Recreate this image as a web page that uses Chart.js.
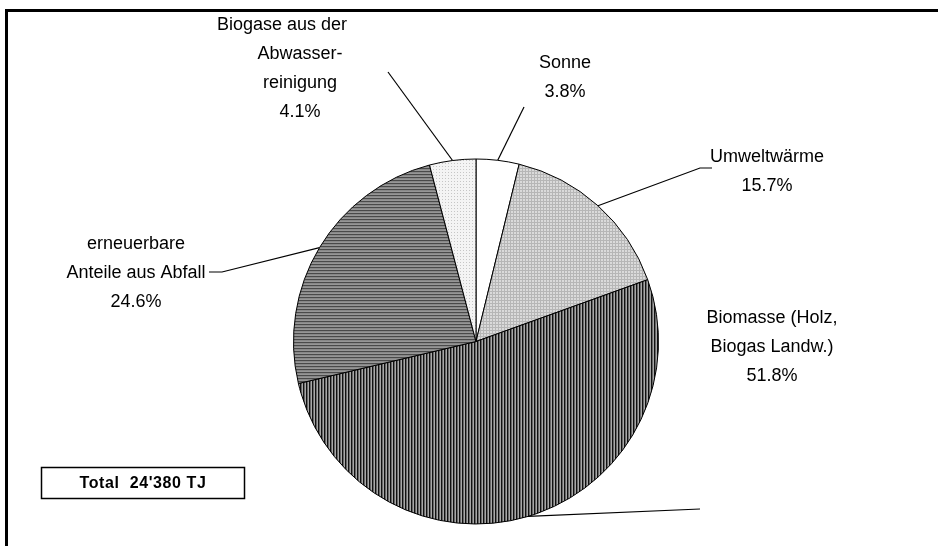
<!DOCTYPE html>
<html>
<head>
<meta charset="utf-8">
<script src="https://cdn.jsdelivr.net/npm/chart.js@4.4.1/dist/chart.umd.min.js"></script>
<style>
  html, body { margin: 0; padding: 0; background: #fff; }
  #wrap { position: relative; width: 938px; height: 546px; }
</style>
</head>
<body>
<div id="wrap"><canvas id="pie" width="938" height="546"></canvas></div>
<script>
// ---- data ----
const categories = ['Sonne', 'Umweltwärme', 'Biomasse (Holz, Biogas Landw.)', 'erneuerbare Anteile aus Abfall', 'Biogase aus der Abwasserreinigung'];
const shares = [3.8, 15.7, 51.8, 24.6, 4.1];
const labelLines = [
    ['Sonne'],
    ['Umweltwärme'],
    ['Biomasse (Holz,', 'Biogas Landw.)'],
    ['erneuerbare', 'Anteile aus Abfall'],
    ['Biogase aus der', 'Abwasser-', 'reinigung']
];
const totalText = "Total  24'380 TJ";

// ---- label placement (layout only) ----
const labelLayout = [
    { x: 565, y: 63, shift: [0], leader: [[524, 107]] },
    { x: 767, y: 157, shift: [0], leader: [[712, 168], [700, 168]] },
    { x: 772, y: 318, shift: [0, 0], leader: [[700, 509]] },
    { x: 136, y: 244, shift: [0, 0], leader: [[209, 272], [222, 272]] },
    { x: 300, y: 25, shift: [-18, 0, 0], leader: [[388, 72]] }
];
const lineGap = 29;
const font = '18px "Liberation Sans", Arial, sans-serif';

// ---- fill patterns ----
const makePattern = (w, h, draw) => {
    const c = document.createElement('canvas');
    c.width = w; c.height = h;
    const g = c.getContext('2d');
    draw(g);
    return g.createPattern(c, 'repeat');
};

const fills = [
    '#ffffff',
    makePattern(3, 3, g => {            // light grid
        g.fillStyle = '#dadada'; g.fillRect(0, 0, 3, 3);
        g.fillStyle = '#b6b6b6'; g.fillRect(0, 0, 3, 1); g.fillRect(0, 0, 1, 3);
    }),
    makePattern(3, 1, g => {            // vertical stripes
        g.fillStyle = '#111111'; g.fillRect(0, 0, 1, 1);
        g.fillStyle = '#686868'; g.fillRect(1, 0, 1, 1);
        g.fillStyle = '#a8a8a8'; g.fillRect(2, 0, 1, 1);
    }),
    makePattern(1, 3, g => {            // horizontal stripes
        g.fillStyle = '#4a4a4a'; g.fillRect(0, 0, 1, 1);
        g.fillStyle = '#888888'; g.fillRect(0, 1, 1, 1);
        g.fillStyle = '#969696'; g.fillRect(0, 2, 1, 1);
    }),
    makePattern(3, 3, g => {            // light dots
        g.fillStyle = '#f4f4f4'; g.fillRect(0, 0, 3, 3);
        g.fillStyle = '#c6c6c6'; g.fillRect(1, 1, 1, 1);
    })
];

// ---- labels, leaders, frame, total box ----
const decorPlugin = {
    id: 'decor',
    afterDraw(chart) {
        const ctx = chart.ctx;
        const arcs = chart.getDatasetMeta(0).data;
        ctx.save();

        // outer frame (right/bottom lie outside the view)
        ctx.strokeStyle = '#000';
        ctx.lineWidth = 3;
        ctx.strokeRect(6.5, 10.5, 1200, 1200);

        ctx.font = font;
        ctx.fillStyle = '#000';
        ctx.textAlign = 'center';
        ctx.textBaseline = 'middle';

        arcs.forEach((arc, i) => {
            const p = arc.getProps(['x', 'y', 'startAngle', 'endAngle', 'outerRadius'], true);
            const mid = (p.startAngle + p.endAngle) / 2;
            const ex = p.x + Math.cos(mid) * p.outerRadius;
            const ey = p.y + Math.sin(mid) * p.outerRadius;
            const lay = labelLayout[i];

            // leader line
            ctx.lineWidth = 1.2;
            ctx.beginPath();
            lay.leader.forEach((pt, k) => k ? ctx.lineTo(pt[0], pt[1]) : ctx.moveTo(pt[0], pt[1]));
            ctx.lineTo(ex, ey);
            ctx.stroke();

            // text
            const lines = labelLines[i].concat([shares[i].toFixed(1) + '%']);
            lines.forEach((t, k) => {
                ctx.fillText(t, lay.x + (lay.shift[k] || 0), lay.y + k * lineGap);
            });
        });

        // total box
        ctx.lineWidth = 1.5;
        ctx.strokeRect(41.5, 467.5, 203, 31);
        ctx.font = 'bold 16px "Liberation Sans", Arial, sans-serif';
        ctx.letterSpacing = '0.6px';
        ctx.fillText(totalText, 143, 484);
        ctx.restore();
    }
};

new Chart(document.getElementById('pie'), {
    type: 'pie',
    data: {
        labels: categories,
        datasets: [{
            data: shares,
            backgroundColor: fills,
            borderColor: '#000',
            borderWidth: 1
        }]
    },
    options: {
        responsive: false,
        animation: false,
        layout: { padding: { left: 293, right: 279, top: 158, bottom: 21 } },
        plugins: { legend: { display: false }, tooltip: { enabled: false } }
    },
    plugins: [decorPlugin]
});
</script>
</body>
</html>
